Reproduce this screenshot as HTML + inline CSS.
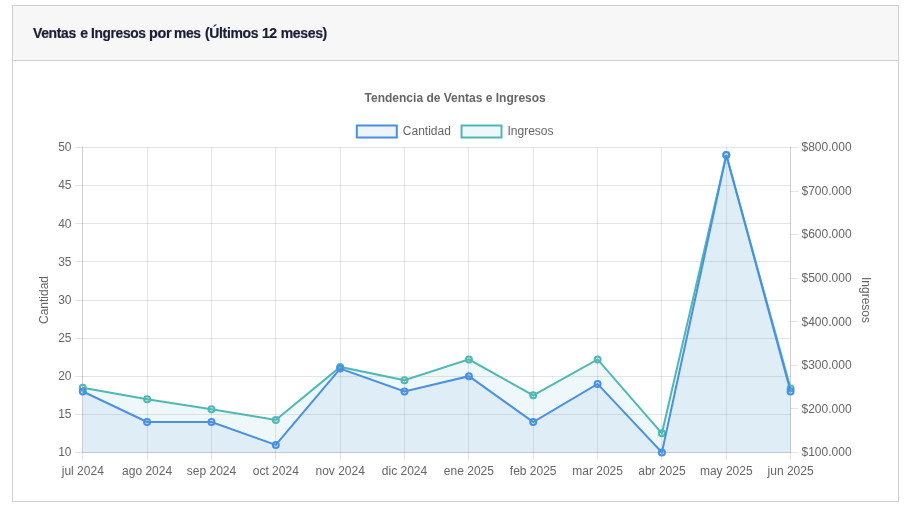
<!DOCTYPE html>
<html lang="es">
<head>
<meta charset="utf-8">
<title>Ventas e Ingresos por mes</title>
<style>
html,body{margin:0;padding:0;background:#fff;}
body{width:905px;height:517px;overflow:hidden;position:relative;font-family:"Liberation Sans",sans-serif;}
.card{position:absolute;left:12px;top:5px;width:885px;height:495px;border:1px solid #d0d0d0;background:#fff;}
.card-header{position:absolute;left:0;top:0;width:885px;height:54px;background:#f7f7f7;border-bottom:1px solid #d0d0d0;}
.card-header h3{margin:0;position:absolute;left:0;top:0;width:400px;height:54px;line-height:54px;font-size:14px;font-weight:bold;color:#1a1f36;white-space:nowrap;letter-spacing:-0.34px;will-change:transform;-webkit-text-stroke:0.22px #1a1f36;}
.card-header h3 span{position:absolute;top:0;transform-origin:0 50%;}
.chart{position:absolute;left:0;top:55px;display:block;will-change:transform;}
</style>
</head>
<body>
<div class="card">
<div class="card-header"><h3><span style="left:19.60px;transform:scaleX(0.993)">Ventas</span> <span style="left:67.14px;transform:scaleX(1.000)">e</span> <span style="left:78.24px;transform:scaleX(0.980)">Ingresos</span> <span style="left:135.90px;transform:scaleX(1.030)">por</span> <span style="left:161.30px;transform:scaleX(0.985)">mes</span> <span style="left:191.50px;transform:scaleX(0.997)">(Últimos</span> <span style="left:248.90px;transform:scaleX(1.000)">12</span> <span style="left:267.70px;transform:scaleX(1.000)">meses)</span></h3></div>
<svg class="chart" width="885" height="441" viewBox="13 61 885 441" font-family="'Liberation Sans', sans-serif" font-size="12" fill="#666">
<line x1="82.5" y1="147.0" x2="82.5" y2="460.0" stroke="rgba(0,0,0,0.1)" stroke-width="1"/>
<line x1="147.5" y1="147.0" x2="147.5" y2="460.0" stroke="rgba(0,0,0,0.1)" stroke-width="1"/>
<line x1="211.5" y1="147.0" x2="211.5" y2="460.0" stroke="rgba(0,0,0,0.1)" stroke-width="1"/>
<line x1="275.5" y1="147.0" x2="275.5" y2="460.0" stroke="rgba(0,0,0,0.1)" stroke-width="1"/>
<line x1="340.5" y1="147.0" x2="340.5" y2="460.0" stroke="rgba(0,0,0,0.1)" stroke-width="1"/>
<line x1="404.5" y1="147.0" x2="404.5" y2="460.0" stroke="rgba(0,0,0,0.1)" stroke-width="1"/>
<line x1="468.5" y1="147.0" x2="468.5" y2="460.0" stroke="rgba(0,0,0,0.1)" stroke-width="1"/>
<line x1="533.5" y1="147.0" x2="533.5" y2="460.0" stroke="rgba(0,0,0,0.1)" stroke-width="1"/>
<line x1="597.5" y1="147.0" x2="597.5" y2="460.0" stroke="rgba(0,0,0,0.1)" stroke-width="1"/>
<line x1="661.5" y1="147.0" x2="661.5" y2="460.0" stroke="rgba(0,0,0,0.1)" stroke-width="1"/>
<line x1="726.5" y1="147.0" x2="726.5" y2="460.0" stroke="rgba(0,0,0,0.1)" stroke-width="1"/>
<line x1="790.5" y1="147.0" x2="790.5" y2="460.0" stroke="rgba(0,0,0,0.1)" stroke-width="1"/>
<line x1="75.0" y1="147.5" x2="791.0" y2="147.5" stroke="rgba(0,0,0,0.1)" stroke-width="1"/>
<line x1="75.0" y1="185.5" x2="791.0" y2="185.5" stroke="rgba(0,0,0,0.1)" stroke-width="1"/>
<line x1="75.0" y1="223.5" x2="791.0" y2="223.5" stroke="rgba(0,0,0,0.1)" stroke-width="1"/>
<line x1="75.0" y1="261.5" x2="791.0" y2="261.5" stroke="rgba(0,0,0,0.1)" stroke-width="1"/>
<line x1="75.0" y1="300.5" x2="791.0" y2="300.5" stroke="rgba(0,0,0,0.1)" stroke-width="1"/>
<line x1="75.0" y1="338.5" x2="791.0" y2="338.5" stroke="rgba(0,0,0,0.1)" stroke-width="1"/>
<line x1="75.0" y1="376.5" x2="791.0" y2="376.5" stroke="rgba(0,0,0,0.1)" stroke-width="1"/>
<line x1="75.0" y1="414.5" x2="791.0" y2="414.5" stroke="rgba(0,0,0,0.1)" stroke-width="1"/>
<line x1="75.0" y1="452.5" x2="791.0" y2="452.5" stroke="rgba(0,0,0,0.1)" stroke-width="1"/>
<line x1="790.5" y1="147.5" x2="798.5" y2="147.5" stroke="rgba(0,0,0,0.1)" stroke-width="1"/>
<line x1="790.5" y1="191.5" x2="798.5" y2="191.5" stroke="rgba(0,0,0,0.1)" stroke-width="1"/>
<line x1="790.5" y1="234.5" x2="798.5" y2="234.5" stroke="rgba(0,0,0,0.1)" stroke-width="1"/>
<line x1="790.5" y1="278.5" x2="798.5" y2="278.5" stroke="rgba(0,0,0,0.1)" stroke-width="1"/>
<line x1="790.5" y1="321.5" x2="798.5" y2="321.5" stroke="rgba(0,0,0,0.1)" stroke-width="1"/>
<line x1="790.5" y1="365.5" x2="798.5" y2="365.5" stroke="rgba(0,0,0,0.1)" stroke-width="1"/>
<line x1="790.5" y1="408.5" x2="798.5" y2="408.5" stroke="rgba(0,0,0,0.1)" stroke-width="1"/>
<line x1="790.5" y1="452.5" x2="798.5" y2="452.5" stroke="rgba(0,0,0,0.1)" stroke-width="1"/>
<line x1="82.5" y1="147.0" x2="82.5" y2="453.0" stroke="rgba(0,0,0,0.1)" stroke-width="1"/>
<line x1="790.5" y1="147.0" x2="790.5" y2="453.0" stroke="rgba(0,0,0,0.1)" stroke-width="1"/>
<line x1="82.5" y1="452.5" x2="790.5" y2="452.5" stroke="rgba(0,0,0,0.1)" stroke-width="1"/>
<polygon points="82.8,452.5 82.8,387.7 147.1,399.2 211.5,409.2 275.8,420.0 340.2,366.9 404.5,380.2 468.9,359.4 533.2,395.3 597.6,359.4 661.9,433.3 726.3,155.0 790.6,388.5 790.6,452.5" fill="rgba(85,176,196,0.1)"/>
<polyline points="82.8,387.7 147.1,399.2 211.5,409.2 275.8,420.0 340.2,366.9 404.5,380.2 468.9,359.4 533.2,395.3 597.6,359.4 661.9,433.3 726.3,155.0 790.6,388.5" fill="none" stroke="#50b8b4" stroke-width="2" stroke-linejoin="miter"/>
<circle cx="82.8" cy="387.7" r="3" fill="rgba(85,176,196,0.1)" stroke="#50b8b4" stroke-width="2"/>
<circle cx="147.1" cy="399.2" r="3" fill="rgba(85,176,196,0.1)" stroke="#50b8b4" stroke-width="2"/>
<circle cx="211.5" cy="409.2" r="3" fill="rgba(85,176,196,0.1)" stroke="#50b8b4" stroke-width="2"/>
<circle cx="275.8" cy="420.0" r="3" fill="rgba(85,176,196,0.1)" stroke="#50b8b4" stroke-width="2"/>
<circle cx="340.2" cy="366.9" r="3" fill="rgba(85,176,196,0.1)" stroke="#50b8b4" stroke-width="2"/>
<circle cx="404.5" cy="380.2" r="3" fill="rgba(85,176,196,0.1)" stroke="#50b8b4" stroke-width="2"/>
<circle cx="468.9" cy="359.4" r="3" fill="rgba(85,176,196,0.1)" stroke="#50b8b4" stroke-width="2"/>
<circle cx="533.2" cy="395.3" r="3" fill="rgba(85,176,196,0.1)" stroke="#50b8b4" stroke-width="2"/>
<circle cx="597.6" cy="359.4" r="3" fill="rgba(85,176,196,0.1)" stroke="#50b8b4" stroke-width="2"/>
<circle cx="661.9" cy="433.3" r="3" fill="rgba(85,176,196,0.1)" stroke="#50b8b4" stroke-width="2"/>
<circle cx="726.3" cy="155.0" r="3" fill="rgba(85,176,196,0.1)" stroke="#50b8b4" stroke-width="2"/>
<circle cx="790.6" cy="388.5" r="3" fill="rgba(85,176,196,0.1)" stroke="#50b8b4" stroke-width="2"/>
<polygon points="82.8,452.5 82.8,391.5 147.1,422.0 211.5,422.0 275.8,444.9 340.2,368.6 404.5,391.5 468.9,376.2 533.2,422.0 597.6,383.9 661.9,452.5 726.3,155.1 790.6,391.5 790.6,452.5" fill="rgba(74,144,226,0.1)"/>
<polyline points="82.8,391.5 147.1,422.0 211.5,422.0 275.8,444.9 340.2,368.6 404.5,391.5 468.9,376.2 533.2,422.0 597.6,383.9 661.9,452.5 726.3,155.1 790.6,391.5" fill="none" stroke="#4a90e2" stroke-width="2" stroke-linejoin="miter"/>
<circle cx="82.8" cy="391.5" r="3" fill="rgba(74,144,226,0.1)" stroke="#4a90e2" stroke-width="2"/>
<circle cx="147.1" cy="422.0" r="3" fill="rgba(74,144,226,0.1)" stroke="#4a90e2" stroke-width="2"/>
<circle cx="211.5" cy="422.0" r="3" fill="rgba(74,144,226,0.1)" stroke="#4a90e2" stroke-width="2"/>
<circle cx="275.8" cy="444.9" r="3" fill="rgba(74,144,226,0.1)" stroke="#4a90e2" stroke-width="2"/>
<circle cx="340.2" cy="368.6" r="3" fill="rgba(74,144,226,0.1)" stroke="#4a90e2" stroke-width="2"/>
<circle cx="404.5" cy="391.5" r="3" fill="rgba(74,144,226,0.1)" stroke="#4a90e2" stroke-width="2"/>
<circle cx="468.9" cy="376.2" r="3" fill="rgba(74,144,226,0.1)" stroke="#4a90e2" stroke-width="2"/>
<circle cx="533.2" cy="422.0" r="3" fill="rgba(74,144,226,0.1)" stroke="#4a90e2" stroke-width="2"/>
<circle cx="597.6" cy="383.9" r="3" fill="rgba(74,144,226,0.1)" stroke="#4a90e2" stroke-width="2"/>
<circle cx="661.9" cy="452.5" r="3" fill="rgba(74,144,226,0.1)" stroke="#4a90e2" stroke-width="2"/>
<circle cx="726.3" cy="155.1" r="3" fill="rgba(74,144,226,0.1)" stroke="#4a90e2" stroke-width="2"/>
<circle cx="790.6" cy="391.5" r="3" fill="rgba(74,144,226,0.1)" stroke="#4a90e2" stroke-width="2"/>
<text x="71.5" y="151.0" text-anchor="end">50</text>
<text x="71.5" y="189.0" text-anchor="end">45</text>
<text x="71.5" y="228.0" text-anchor="end">40</text>
<text x="71.5" y="266.0" text-anchor="end">35</text>
<text x="71.5" y="304.0" text-anchor="end">30</text>
<text x="71.5" y="342.0" text-anchor="end">25</text>
<text x="71.5" y="380.0" text-anchor="end">20</text>
<text x="71.5" y="418.0" text-anchor="end">15</text>
<text x="71.5" y="456.0" text-anchor="end">10</text>
<text x="801.5" y="151.0">$800.000</text>
<text x="801.5" y="195.0">$700.000</text>
<text x="801.5" y="238.0">$600.000</text>
<text x="801.5" y="282.0">$500.000</text>
<text x="801.5" y="326.0">$400.000</text>
<text x="801.5" y="369.0">$300.000</text>
<text x="801.5" y="413.0">$200.000</text>
<text x="801.5" y="456.0">$100.000</text>
<text x="82.8" y="475.2" text-anchor="middle">jul 2024</text>
<text x="147.1" y="475.2" text-anchor="middle">ago 2024</text>
<text x="211.5" y="475.2" text-anchor="middle">sep 2024</text>
<text x="275.8" y="475.2" text-anchor="middle">oct 2024</text>
<text x="340.2" y="475.2" text-anchor="middle">nov 2024</text>
<text x="404.5" y="475.2" text-anchor="middle">dic 2024</text>
<text x="468.9" y="475.2" text-anchor="middle">ene 2025</text>
<text x="533.2" y="475.2" text-anchor="middle">feb 2025</text>
<text x="597.6" y="475.2" text-anchor="middle">mar 2025</text>
<text x="661.9" y="475.2" text-anchor="middle">abr 2025</text>
<text x="726.3" y="475.2" text-anchor="middle">may 2025</text>
<text x="790.6" y="475.2" text-anchor="middle">jun 2025</text>
<text transform="translate(48.2,300) rotate(-90)" text-anchor="middle">Cantidad</text>
<text transform="translate(862.3,300) rotate(90)" text-anchor="middle">Ingresos</text>
<text x="455.2" y="102.4" text-anchor="middle" font-weight="bold">Tendencia de Ventas e Ingresos</text>
<rect x="356.8" y="125.5" width="40" height="12" fill="rgba(74,144,226,0.1)" stroke="#4a90e2" stroke-width="2"/>
<text x="402.8" y="135.4">Cantidad</text>
<rect x="461.5" y="125.5" width="40" height="12" fill="rgba(85,176,196,0.1)" stroke="#50b8b4" stroke-width="2"/>
<text x="507.5" y="135.4">Ingresos</text>
</svg>
</div>
</body>
</html>
